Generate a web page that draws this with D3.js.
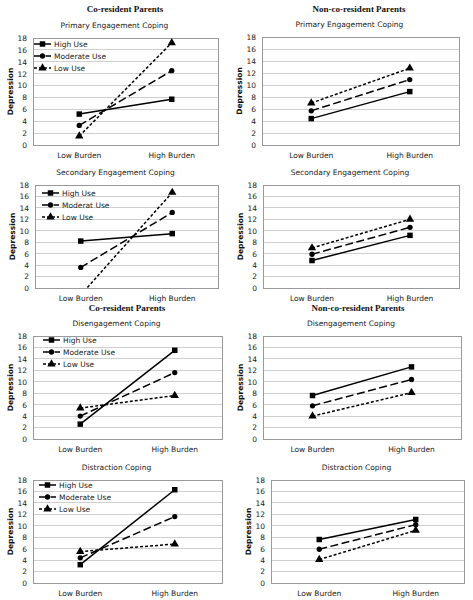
<!DOCTYPE html>
<html><head><meta charset="utf-8">
<script src="https://cdn.jsdelivr.net/npm/d3@7"></script>
<style>body{margin:0;background:#fff}svg{display:block}</style>
</head><body>
<svg id="c" width="473" height="600"></svg>
<script>
// ---------- data ----------
const categories = ["Low Burden", "High Burden"];
const seriesNames = ["High Use", "Moderate Use", "Low Use"];
const seriesNamesTypo = ["High Use", "Moderat Use", "Low Use"];
const yTicks = [0, 2, 4, 6, 8, 10, 12, 14, 16, 18];
const groupTitles = ["Co-resident Parents", "Non-co-resident Parents"];
const copingTitles = ["Primary Engagement Coping", "Secondary Engagement Coping", "Disengagement Coping", "Distraction Coping"];
const yAxisTitle = "Depression";
// rows: High Use, Moderate Use, Low Use ; columns: Low Burden, High Burden
const primaryCo = [[5.2, 7.7], [3.3, 12.5], [1.5, 17.2]];
const primaryNonCo = [[4.4, 8.9], [5.7, 10.9], [7.0, 12.8]];
const secondaryCo = [[8.2, 9.5], [3.6, 13.2], [-1.2, 16.7]];
const secondaryNonCo = [[4.8, 9.2], [5.9, 10.6], [7.0, 12.0]];
const disengageCo = [[2.6, 15.5], [4.0, 11.6], [5.4, 7.6]];
const disengageNonCo = [[7.6, 12.6], [5.8, 10.4], [4.0, 8.1]];
const distractCo = [[3.2, 16.3], [4.4, 11.6], [5.5, 6.8]];
const distractNonCo = [[7.6, 11.1], [5.9, 10.2], [4.1, 9.2]];

// ---------- layout ----------
const panels = [
  {data: primaryCo, title: copingTitles[0], L: 33, R: 218, T: 38, B: 145, legend: seriesNames, lx: 34, ly: 44},
  {data: primaryNonCo, title: copingTitles[0], L: 262, R: 459, T: 37, B: 145},
  {data: secondaryCo, title: copingTitles[1], L: 35, R: 218, T: 185, B: 288, legend: seriesNamesTypo, lx: 42, ly: 193},
  {data: secondaryNonCo, title: copingTitles[1], L: 263, R: 459, T: 185, B: 288},
  {data: disengageCo, title: copingTitles[2], L: 33, R: 222, T: 336, B: 439, legend: seriesNames, lx: 43, ly: 340},
  {data: disengageNonCo, title: copingTitles[2], L: 263, R: 461, T: 336, B: 439},
  {data: distractCo, title: copingTitles[3], L: 33, R: 222, T: 480, B: 583, legend: seriesNames, lx: 39, ly: 485},
  {data: distractNonCo, title: copingTitles[3], L: 271, R: 464, T: 480, B: 583}
];
const headers = [
  {text: groupTitles[0], x: 125, y: 12}, {text: groupTitles[1], x: 359, y: 12},
  {text: groupTitles[0], x: 127, y: 311}, {text: groupTitles[1], x: 358, y: 311}
];
const dashes = [null, "8,3.5", "3,2"];
const symbols = [d3.symbolSquare, d3.symbolCircle, d3.symbolTriangle];
const symSizes = [30, 22, 30];

const svg = d3.select("#c");
const sans = "DejaVu Sans, Verdana, sans-serif";

headers.forEach(h => {
  svg.append("text").attr("x", h.x).attr("y", h.y).attr("text-anchor", "middle")
    .attr("font-family", "Liberation Serif, Times New Roman, serif").attr("font-weight", "bold")
    .attr("font-size", 9).attr("fill", "#111").text(h.text);
});

panels.forEach((p, pi) => {
  const g = svg.append("g");
  const x = d3.scaleBand().domain(categories).range([p.L, p.R]).padding(0);
  const y = d3.scaleLinear().domain([0, 18]).range([p.B, p.T]);
  const cx = c => x(c) + x.bandwidth() / 2;

  // subtitle
  g.append("text").attr("x", (p.L - 22 + p.R) / 2).attr("y", p.T - 10)
    .attr("text-anchor", "middle").attr("font-family", sans).attr("font-size", 7.5)
    .attr("fill", "#222").text(p.title);

  // gridlines
  g.append("g").selectAll("line").data(yTicks.filter(t => t > 0 && t < 18)).join("line")
    .attr("x1", p.L).attr("x2", p.R).attr("y1", d => y(d)).attr("y2", d => y(d))
    .attr("stroke", "#cfcfcf").attr("stroke-width", 1).attr("shape-rendering", "crispEdges");
  // border
  g.append("rect").attr("x", p.L).attr("y", p.T).attr("width", p.R - p.L).attr("height", p.B - p.T)
    .attr("fill", "none").attr("stroke", "#9a9a9a").attr("stroke-width", 1).attr("shape-rendering", "crispEdges");

  // y axis
  const ya = d3.axisLeft(y).tickValues(yTicks).tickSize(0).tickPadding(6);
  const yg = g.append("g").attr("transform", `translate(${p.L},0)`).call(ya);
  yg.select(".domain").remove();
  yg.selectAll("text").attr("font-family", sans).attr("font-size", 7.5).attr("fill", "#222");

  // x axis
  const xa = d3.axisBottom(x).tickSize(0).tickPadding(8);
  const xg = g.append("g").attr("transform", `translate(0,${p.B})`).call(xa);
  xg.select(".domain").remove();
  xg.selectAll("text").attr("font-family", sans).attr("font-size", 7.5).attr("fill", "#222");

  // y title
  g.append("text").attr("transform", `translate(${p.L - 20},${(p.T + p.B) / 2}) rotate(-90)`)
    .attr("text-anchor", "middle").attr("font-family", sans).attr("font-weight", "bold")
    .attr("font-size", 7.5).attr("fill", "#111").text(yAxisTitle);

  // clip
  const cid = "clip" + pi;
  svg.append("clipPath").attr("id", cid).append("rect")
    .attr("x", p.L).attr("y", p.T - 6).attr("width", p.R - p.L).attr("height", p.B - p.T + 6);
  const pg = g.append("g").attr("clip-path", `url(#${cid})`);

  const line = d3.line().x((d, i) => cx(categories[i])).y(d => y(d));
  p.data.forEach((vals, si) => {
    pg.append("path").attr("d", line(vals)).attr("fill", "none").attr("stroke", "#000")
      .attr("stroke-width", 1.5).attr("stroke-dasharray", dashes[si]);
    vals.forEach((v, i) => {
      if (v < 0) return;
      pg.append("path").attr("d", d3.symbol().type(symbols[si]).size(symSizes[si])())
        .attr("transform", `translate(${cx(categories[i])},${y(v)})`).attr("fill", "#000");
    });
  });

  // legend
  if (p.legend) {
    const lg = g.append("g");
    p.legend.forEach((name, si) => {
      const ly = p.ly + si * 12;
      lg.append("line").attr("x1", p.lx).attr("x2", p.lx + 17).attr("y1", ly).attr("y2", ly)
        .attr("stroke", "#000").attr("stroke-width", 1.5).attr("stroke-dasharray", dashes[si]);
      lg.append("path").attr("d", d3.symbol().type(symbols[si]).size(symSizes[si])())
        .attr("transform", `translate(${p.lx + 8.5},${ly})`).attr("fill", "#000");
      lg.append("text").attr("x", p.lx + 20).attr("y", ly).attr("dy", "0.35em")
        .attr("font-family", sans).attr("font-size", 7.5).attr("fill", "#222").text(name);
    });
  }
});
</script>
</body></html>
